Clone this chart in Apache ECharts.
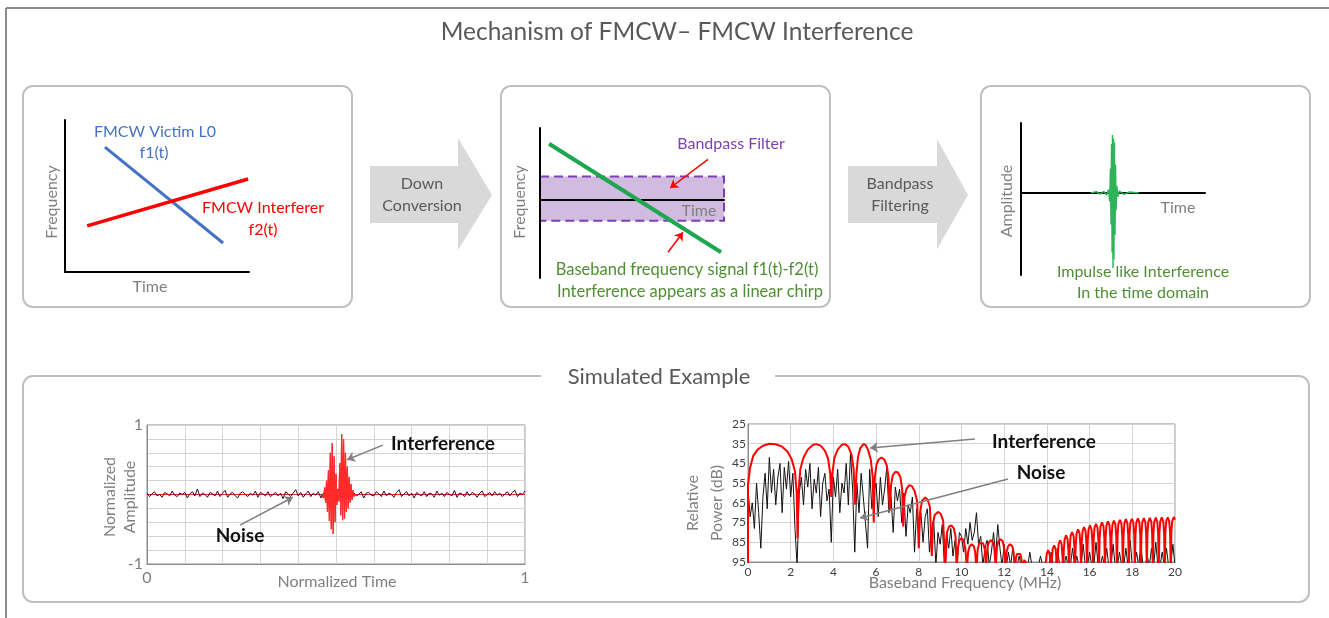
<!DOCTYPE html>
<html><head><meta charset="utf-8">
<script src="https://cdn.jsdelivr.net/npm/echarts@6/dist/echarts.min.js"></script>
<style>html,body{margin:0;padding:0;background:#fff}#c{width:1329px;height:618px}</style>
</head><body><div id="c"></div>
<script>
// ---------------- DATA ----------------
// Panel 1: chirps (time, frequency), arbitrary units 0..10
const victimChirp = [[2.17, 8.22], [8.59, 1.91]];
const interfererChirp = [[1.2, 3.03], [9.95, 6.12]];
// Panel 2: baseband chirp and bandpass filter band
const basebandChirp = [[0.49, 0.78], [9.84, -0.74]];
const bandpassBand = [[0, 0.32], [10, -0.3]];
// Panel 3: impulse-like interference after filtering
const impulseTime = [3.8, 4.1, 4.3, 4.5, 4.65, 4.75, 4.82, 4.86, 4.89, 4.92, 4.95, 4.97, 5.0, 5.03, 5.05, 5.08, 5.11, 5.14, 5.17, 5.21, 5.26, 5.35, 5.6, 5.9, 6.4];
const impulseAmp = [0, 0.02, -0.015, 0.025, -0.03, 0.05, -0.12, 0.35, -0.45, 0.7, -0.85, 0.83, -1.07, 0.78, -0.95, 0.72, -0.6, 0.4, -0.25, 0.1, -0.05, 0.03, -0.02, 0.015, 0];

// Simulated example (time domain), normalized amplitude, evenly sampled over 0..1
const timeNoise = [
0.02,-0.03,0.01,0.04,-0.02,0.00,-0.04,0.03,0.01,-0.02,
0.05,-0.01,-0.03,0.02,0.00,0.03,-0.05,0.01,0.04,-0.02,
0.08,-0.03,0.02,0.00,-0.04,0.03,0.01,-0.02,0.05,-0.03,
0.02,0.06,-0.04,0.01,0.03,-0.02,-0.05,0.02,0.04,0.00,
-0.03,0.02,-0.01,0.05,-0.04,0.03,0.01,-0.02,0.04,-0.03,
0.00,0.03,-0.02,0.02,-0.06,0.04,0.01,-0.03,0.02,0.07,
-0.02,0.03,-0.04,0.01,0.05,-0.03,0.02,-0.01,0.04,-0.05,
0.02,0.00,-0.03,0.04,-0.02,0.03,0.01,-0.04,0.02,0.05,
-0.03,0.01,0.03,-0.02,0.00,0.04,-0.05,0.02,0.03,-0.01,
-0.02,0.04,0.01,-0.03,0.05,-0.02,0.02,0.00,-0.04,0.03,
0.07,-0.03,0.01,0.04,-0.02,0.02,-0.05,0.03,0.00,-0.02,
0.04,-0.03,0.02,0.01,-0.04,0.05,-0.01,0.02,-0.03,0.03,
0.00,-0.02,0.06,-0.04,0.02,0.01,-0.03,0.04,-0.02,0.03,
0.01,-0.04,0.02,0.05,-0.03,0.00,0.03,-0.02,0.04,-0.01,
0.02,-0.03,0.01,0.04,-0.02,0.03,0.06,-0.03,0.02,0.00,
0.05];
const interferenceTime = [0,0.46,0.465,0.4675,0.47,0.4725,0.475,0.4775,0.48,0.4825,0.485,0.4875,0.49,0.4925,0.495,0.4975,0.5,0.5025,0.505,0.5075,0.51,0.5125,0.515,0.5175,0.52,0.5225,0.525,0.5275,0.53,0.5325,0.535,0.5375,0.54,0.5425,0.545,0.5475,0.55,0.555,1];
const interferenceAmp = [0,0,0.02,-0.05,0.1,-0.12,0.2,-0.25,0.35,-0.38,0.6,-0.5,0.74,-0.57,0.55,-0.4,0.3,-0.15,0.08,-0.1,0.45,-0.3,0.87,-0.37,0.8,-0.35,0.6,-0.25,0.4,-0.2,0.25,-0.12,0.15,-0.08,0.06,-0.03,0,0,0];
const burstWindow = [0.46, 0.555];
const timeTickLabels = [0, 1];
const ampTickLabels = [-1, 1];

// Simulated example (spectrum): relative power (dB), noise sampled every 0.1 MHz from 0 to 20 MHz
const spectrumStepMHz = 0.1;
const spectrumNoise = [
58,72,65,78,55,70,88,62,50,68,
42,60,48,66,52,45,70,47,58,44,
62,50,78,97,60,52,66,48,57,45,
68,53,60,47,72,55,50,64,58,85,
52,62,48,70,55,60,45,66,40,58,
90,55,70,50,62,75,88,48,68,60,
55,72,52,66,58,47,70,62,80,57,
64,58,75,60,82,66,70,62,90,68,
76,70,85,72,68,90,78,74,97,80,
86,76,97,80,88,78,92,84,97,80,
82,90,78,86,75,84,80,70,86,82,
97,88,84,97,90,80,92,76,88,97,
86,97,90,97,88,97,97,92,97,97,
97,97,90,97,97,97,97,92,97,97,
97,97,90,97,97,88,97,97,97,92,
97,97,88,97,92,97,97,86,97,97,
90,97,97,85,97,97,92,97,88,97,
97,86,97,97,90,97,97,88,97,84,
97,97,90,97,86,97,97,92,97,88,
97,85,97,97,90,97,88,97,97,86,
97];
const spectrumInterference = [
[0,97],[0,56],[0.1,47],[0.25,41],[0.45,38],[0.7,36],[1.0,35],[1.3,35.3],[1.6,36.5],[1.85,39],[2.05,43],[2.2,49],[2.28,60],[2.32,83],
[2.36,60],[2.45,48],[2.6,42],[2.8,38],[3.05,35.5],[3.2,35.2],[3.4,36],[3.6,38.5],[3.75,42.5],[3.85,50],[3.9,62],
[3.95,50],[4.05,42],[4.2,38],[4.4,35.5],[4.55,35.2],[4.7,36.5],[4.85,40.5],[4.95,48],[5.02,66],
[5.08,50],[5.15,42],[5.25,37.5],[5.4,35.2],[5.5,35.5],[5.62,38],[5.75,43],[5.84,52],[5.89,75],
[5.94,52],[6.02,45.5],[6.12,43],[6.25,42],[6.38,43],[6.5,46],[6.58,52],[6.64,69],
[6.7,56],[6.78,51],[6.9,49.3],[7.02,49.5],[7.14,52],[7.22,58],[7.27,77],
[7.33,62],[7.42,58],[7.55,56],[7.68,56.5],[7.8,59],[7.92,64],[8.0,88],
[8.06,70],[8.15,64],[8.3,62.3],[8.42,63.5],[8.52,67],[8.61,92],
[8.67,75],[8.75,71],[8.9,69.6],[9.02,70.5],[9.14,74],[9.24,98],
[9.32,80],[9.42,77],[9.53,76.4],[9.64,78],[9.72,82],[9.77,98],
[9.83,88],[9.9,84],[10.0,83],[10.1,84],[10.18,88],[10.25,98],
[10.31,90],[10.38,87],[10.48,86],[10.58,87],[10.64,90],[10.7,98],
[10.76,88.5],[10.83,85.5],[10.92,84.5],[11.01,85.5],[11.09,88.5],[11.15,98],
[11.21,88],[11.28,85],[11.38,84],[11.48,85],[11.54,88],[11.6,98],
[11.66,87.5],[11.73,84.5],[11.83,83.5],[11.93,84.5],[11.99,87.5],[12.05,98],
[12.11,90],[12.18,87],[12.28,86],[12.38,87],[12.44,90],[12.5,98],
[12.55,93],[12.6,91],[12.68,90],[12.76,91],[12.8,93],[12.85,98],
[12.9,96],[12.94,94],[12.98,93.5],[13.02,94],[13.06,96],[13.1,98],
[13.92,98],[13.95,97],[13.99,91],[14.06,89],[14.13,91],[14.17,97],
[14.2,98],[14.23,94.5],[14.27,88.5],[14.34,86.5],[14.41,88.5],[14.45,94.5],
[14.48,98],[14.51,92],[14.55,86],[14.62,84],[14.69,86],[14.73,92],
[14.76,98],[14.79,89.5],[14.83,83.5],[14.9,81.5],[14.97,83.5],[15.01,89.5],
[15.04,98],[15.07,87.8],[15.11,81.8],[15.18,79.8],[15.25,81.8],[15.29,87.8],
[15.32,98],[15.35,86.5],[15.39,80.5],[15.46,78.5],[15.53,80.5],[15.57,86.5],
[15.6,98],[15.63,85.3],[15.67,79.3],[15.74,77.3],[15.81,79.3],[15.85,85.3],
[15.88,98],[15.91,84.4],[15.95,78.4],[16.02,76.4],[16.09,78.4],[16.13,84.4],
[16.16,98],[16.19,83.6],[16.23,77.6],[16.3,75.6],[16.37,77.6],[16.41,83.6],
[16.44,98],[16.47,82.9],[16.51,76.9],[16.58,74.9],[16.65,76.9],[16.69,82.9],
[16.72,98],[16.75,82.4],[16.79,76.4],[16.86,74.4],[16.93,76.4],[16.97,82.4],
[17.0,98],[17.03,82],[17.07,76],[17.14,74],[17.21,76],[17.25,82],
[17.28,98],[17.31,81.6],[17.35,75.6],[17.42,73.6],[17.49,75.6],[17.53,81.6],
[17.56,98],[17.59,81.3],[17.63,75.3],[17.7,73.3],[17.77,75.3],[17.81,81.3],
[17.84,98],[17.87,81.1],[17.91,75.1],[17.98,73.1],[18.05,75.1],[18.09,81.1],
[18.12,98],[18.15,80.9],[18.19,74.9],[18.26,72.9],[18.33,74.9],[18.37,80.9],
[18.4,98],[18.43,80.7],[18.47,74.7],[18.54,72.7],[18.61,74.7],[18.65,80.7],
[18.68,98],[18.71,80.6],[18.75,74.6],[18.82,72.6],[18.89,74.6],[18.93,80.6],
[18.96,98],[18.99,80.5],[19.03,74.5],[19.1,72.5],[19.17,74.5],[19.21,80.5],
[19.24,98],[19.27,80.4],[19.31,74.4],[19.38,72.4],[19.45,74.4],[19.49,80.4],
[19.52,98],[19.55,80.3],[19.59,74.3],[19.66,72.3],[19.73,74.3],[19.77,80.3],
[19.8,98],[19.83,80.2],[19.87,74.2],[19.94,72.2],[20,73.5]];

// ---------------- CHART ----------------
const FONT = 'Lato';
const GRAY = '#595959';
const AXGRAY = '#7f7f7f';
const GREEN_TXT = '#4f8f33';

const zip = (xs, ys) => xs.map((x, i) => [x, ys[i]]);
const noiseTimePairs = timeNoise.map((v, i) => [i / (timeNoise.length - 1), v]);
const noiseSpecPairs = spectrumNoise.map((v, i) => [+(i * spectrumStepMHz).toFixed(2), v]);
const interferencePairs = zip(interferenceTime, interferenceAmp);
const burstPairs = interferencePairs.filter(p => p[0] >= burstWindow[0] && p[0] <= burstWindow[1]);

const blackAxis = {
  type: 'value', axisLine: { show: true, onZero: true, lineStyle: { color: '#000', width: 2 } },
  axisTick: { show: false }, axisLabel: { show: false }, splitLine: { show: false }
};
const arrowLine = (color, data) => ({
  silent: true, symbol: ['none', 'arrow'], symbolSize: 8, animation: false,
  lineStyle: { color: color, width: 1.5, type: 'solid' }, label: { show: false },
  emphasis: { disabled: true }, data: data
});
function txt(x, y, text, size, color, extra) {
  return Object.assign({ type: 'text', x: x, y: y, z: 50, silent: true,
    style: Object.assign({ text: text, fill: color, fontSize: size, fontFamily: FONT,
      align: 'center', verticalAlign: 'middle' }, (extra && extra.style) || {}) },
    extra && extra.el || {});
}
function vtxt(x, y, text, size, color) {
  return txt(x, y, text, size, color, { el: { rotation: Math.PI / 2 } });
}
const box = (x, y, w, h) => ({ type: 'rect', z: 0, silent: true, shape: { x: x, y: y, width: w, height: h, r: 10 },
  style: { fill: 'none', stroke: '#c0c0c0', lineWidth: 2 } });
const blockArrow = (pts) => ({ type: 'polygon', z: 0, silent: true, shape: { points: pts }, style: { fill: '#d9d9d9' } });

const chart = echarts.init(document.getElementById('c'), null, { renderer: 'canvas' });
chart.setOption({
  animation: false,
  backgroundColor: '#fff',
  textStyle: { fontFamily: FONT },
  grid: [
    { left: 65, top: 120, width: 184, height: 152, outerBoundsMode: 'none' },
    { left: 540, top: 128, width: 184, height: 150, outerBoundsMode: 'none' },
    { left: 1021, top: 123, width: 184, height: 152, outerBoundsMode: 'none' },
    { left: 147, top: 425, width: 378, height: 139, show: true, borderColor: '#8c8c8c', borderWidth: 1, outerBoundsMode: 'none' },
    { left: 748, top: 424, width: 427, height: 138, show: true, borderColor: '#8c8c8c', borderWidth: 1, outerBoundsMode: 'none' }
  ],
  xAxis: [
    Object.assign({}, blackAxis, { gridIndex: 0, min: 0, max: 10 }),
    Object.assign({}, blackAxis, { gridIndex: 1, min: 0, max: 10, z: 3 }),
    Object.assign({}, blackAxis, { gridIndex: 2, min: 0, max: 10 }),
    { gridIndex: 3, type: 'value', min: 0, max: 1, interval: 0.1,
      axisLine: { onZero: false, lineStyle: { color: '#8c8c8c', width: 1 } }, axisTick: { show: false },
      splitLine: { show: true, lineStyle: { color: '#d4d4d4', width: 1 } },
      axisLabel: { color: AXGRAY, fontSize: 16, margin: 6, showMinLabel: true, showMaxLabel: true,
        formatter: v => timeTickLabels.some(t => Math.abs(t - v) < 1e-6) ? String(Math.round(v)) : '' } },
    { gridIndex: 4, type: 'value', min: 0, max: 20, interval: 2,
      axisLine: { onZero: false, lineStyle: { color: '#8c8c8c', width: 1 } }, axisTick: { show: false },
      splitLine: { show: true, lineStyle: { color: '#d4d4d4', width: 1 } },
      axisLabel: { color: '#404040', fontSize: 12, margin: 4 } }
  ],
  yAxis: [
    Object.assign({}, blackAxis, { gridIndex: 0, min: 0, max: 10 }),
    Object.assign({}, blackAxis, { gridIndex: 1, min: -1.1, max: 1, z: 3 }),
    Object.assign({}, blackAxis, { gridIndex: 2, min: -1.17, max: 1 }),
    { gridIndex: 3, type: 'value', min: -1, max: 1, interval: 0.2,
      axisLine: { show: true, onZero: false, lineStyle: { color: '#8c8c8c', width: 1 } }, axisTick: { show: false },
      splitLine: { show: true, lineStyle: { color: '#d4d4d4', width: 1 } },
      axisLabel: { color: AXGRAY, fontSize: 16, margin: 4,
        formatter: v => { const m = ampTickLabels.find(t => Math.abs(t - v) < 1e-6); return m === undefined ? '' : String(m); } } },
    { gridIndex: 4, type: 'value', min: 25, max: 95, interval: 10, inverse: true,
      axisLine: { show: true, onZero: false, lineStyle: { color: '#8c8c8c', width: 1 } }, axisTick: { show: false },
      splitLine: { show: true, lineStyle: { color: '#d4d4d4', width: 1 } },
      axisLabel: { color: '#404040', fontSize: 12, margin: 2 } }
  ],
  series: [
    { type: 'line', xAxisIndex: 0, yAxisIndex: 0, data: victimChirp, symbol: 'none', silent: true,
      lineStyle: { color: '#4472c4', width: 3 } },
    { type: 'line', xAxisIndex: 0, yAxisIndex: 0, data: interfererChirp, symbol: 'none', silent: true,
      lineStyle: { color: '#ff0000', width: 3.5 } },
    { type: 'line', xAxisIndex: 1, yAxisIndex: 1, data: bandpassBand, symbol: 'none', silent: true, z: 1,
      lineStyle: { width: 0, opacity: 0 },
      markArea: { silent: true, itemStyle: { color: 'rgba(112,48,160,0.32)', borderColor: '#7f3fb5', borderWidth: 2, borderType: [9, 5] },
        data: [[{ coord: bandpassBand[0] }, { coord: bandpassBand[1] }]] } },
    { type: 'line', xAxisIndex: 1, yAxisIndex: 1, data: basebandChirp, symbol: 'none', silent: true, z: 4,
      lineStyle: { color: '#1ea650', width: 4 },
      markLine: arrowLine('#ff0000', [
        [{ coord: [9.13, 0.56] }, { coord: [7.07, 0.16] }],
        [{ coord: [6.96, -0.74] }, { coord: [7.77, -0.46] }]
      ]) },
    { type: 'line', xAxisIndex: 2, yAxisIndex: 2, data: zip(impulseTime, impulseAmp), symbol: 'none', silent: true, z: 4,
      lineStyle: { color: '#2db35a', width: 1.4 } },
    // interference baseline (under the noise)
    { type: 'line', xAxisIndex: 3, yAxisIndex: 3, data: interferencePairs, symbol: 'none', silent: true, z: 1,
      lineStyle: { color: '#ff2020', width: 1.2 } },
    { type: 'line', xAxisIndex: 3, yAxisIndex: 3, data: noiseTimePairs, symbol: 'none', silent: true, z: 2,
      lineStyle: { color: '#1a1a1a', width: 1 } },
    // interference burst (over the noise)
    { type: 'line', xAxisIndex: 3, yAxisIndex: 3, data: burstPairs, symbol: 'none', silent: true, z: 3,
      lineStyle: { color: '#ff2a2a', width: 1.1 },
      markLine: arrowLine('#808080', [
        [{ coord: [0.624, 0.71] }, { coord: [0.529, 0.5] }],
        [{ coord: [0.246, -0.44] }, { coord: [0.386, -0.04] }]
      ]) },
    { type: 'line', xAxisIndex: 4, yAxisIndex: 4, data: noiseSpecPairs, symbol: 'none', silent: true,
      lineStyle: { color: '#111', width: 1 } },
    { type: 'line', xAxisIndex: 4, yAxisIndex: 4, data: spectrumInterference, symbol: 'none', silent: true, z: 3,
      lineStyle: { color: '#ff0000', width: 2 },
      markLine: arrowLine('#808080', [
        [{ coord: [10.63, 32.6] }, { coord: [5.71, 37.2] }],
        [{ coord: [12.18, 52.9] }, { coord: [5.25, 72.7] }]
      ]) }
  ],
  graphic: [
    { type: 'line', silent: true, shape: { x1: 6, y1: 8, x2: 1329, y2: 8 }, style: { stroke: '#8c8c8c', lineWidth: 2 } },
    { type: 'line', silent: true, shape: { x1: 6, y1: 8, x2: 6, y2: 618 }, style: { stroke: '#8c8c8c', lineWidth: 2 } },
    box(23, 86, 329, 221), box(501, 86, 329, 221), box(981, 86, 329, 221),
    box(23, 376, 1286, 226),
    { type: 'rect', silent: true, z: 1, shape: { x: 541, y: 368, width: 234, height: 16 }, style: { fill: '#fff' } },
    blockArrow([[370, 166], [458, 166], [458, 138], [492, 195], [458, 250], [458, 223], [370, 223]]),
    blockArrow([[848, 166], [937, 166], [937, 139], [968, 195], [937, 249], [937, 223], [848, 223]]),
    txt(677, 32, 'Mechanism of FMCW\u2013 FMCW Interference', 24.5, GRAY),
    txt(659, 377, 'Simulated Example', 22, GRAY),
    // panel 1
    txt(155, 132, 'FMCW Victim L0', 16, '#4472c4'),
    txt(154, 153, 'f1(t)', 16, '#4472c4'),
    txt(263, 208, 'FMCW Interferer', 16, '#ff0000'),
    txt(263, 230, 'f2(t)', 16, '#ff0000'),
    vtxt(52, 202, 'Frequency', 16, AXGRAY),
    txt(150, 287, 'Time', 16, AXGRAY),
    // arrows
    txt(422, 195, 'Down\nConversion', 16, GRAY, { style: { lineHeight: 22 } }),
    txt(900, 195, 'Bandpass\nFiltering', 16, GRAY, { style: { lineHeight: 22 } }),
    // panel 2
    txt(731, 144, 'Bandpass Filter', 16, '#7f3fb5'),
    txt(699, 211, 'Time', 16, AXGRAY),
    vtxt(520, 202, 'Frequency', 16, AXGRAY),
    txt(687, 270, 'Baseband frequency signal f1(t)-f2(t)', 16.5, GREEN_TXT),
    txt(690, 292, 'Interference appears as a linear chirp', 16.5, GREEN_TXT),
    // panel 3
    vtxt(1007, 201, 'Amplitude', 16, AXGRAY),
    txt(1178, 208, 'Time', 16, AXGRAY),
    txt(1143, 272, 'Impulse like Interference', 16, GREEN_TXT),
    txt(1143, 293, 'In the time domain', 16, GREEN_TXT),
    // bottom-left chart
    vtxt(110, 497, 'Normalized', 16, AXGRAY),
    vtxt(130, 497, 'Amplitude', 16, AXGRAY),
    txt(337, 582, 'Normalized Time', 16, AXGRAY),
    txt(443, 444, 'Interference', 19, '#111', { style: { fontWeight: 'bold' } }),
    txt(240, 536, 'Noise', 19, '#111', { style: { fontWeight: 'bold' } }),
    // bottom-right chart
    vtxt(693, 503, 'Relative', 16, AXGRAY),
    vtxt(717, 503, 'Power (dB)', 16, AXGRAY),
    txt(965, 583, 'Baseband Frequency (MHz)', 16, AXGRAY),
    txt(1044, 442, 'Interference', 19, '#111', { style: { fontWeight: 'bold' } }),
    txt(1041, 473, 'Noise', 19, '#111', { style: { fontWeight: 'bold' } })
  ]
});
</script></body></html>
